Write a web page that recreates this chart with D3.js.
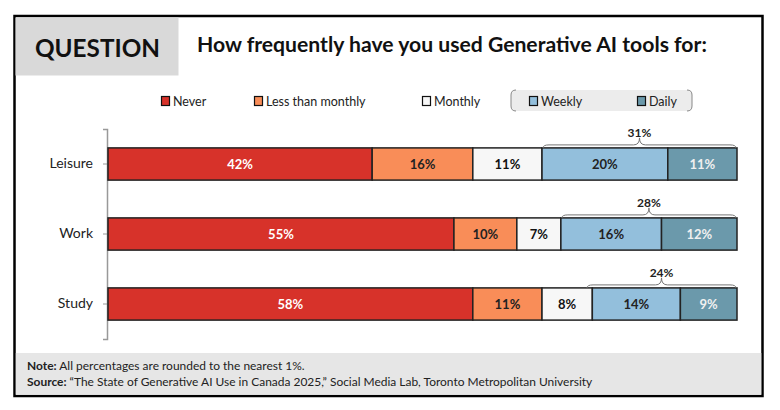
<!DOCTYPE html>
<html>
<head>
<meta charset="utf-8">
<script src="https://cdn.jsdelivr.net/npm/d3@7"></script>
<style>
  body { margin: 0; background: #fff; }
  svg { display: block; font-family: Lato, "Open Sans", sans-serif; }
</style>
</head>
<body>
<svg id="chart" width="780" height="410"></svg>
<script>
const categories = ['Leisure', 'Work', 'Study'];
const series = ['Never', 'Less than monthly', 'Monthly', 'Weekly', 'Daily'];
const never = [42, 55, 58];
const lessThanMonthly = [16, 10, 11];
const monthly = [11, 7, 8];
const weekly = [20, 16, 14];
const daily = [11, 12, 9];
const weeklyOrDaily = [31, 28, 24];

const colors = ['#d7322a', '#f98d58', '#f7f7f7', '#93bfdc', '#6b99ab'];
const labelColors = ['#fff', '#222', '#111', '#222', '#f0f0f0'];

const svg = d3.select('#chart');

// fit a text element to a target width by scaling its font size
function fit(sel, w) {
  const len = sel.node().getComputedTextLength();
  const fs = parseFloat(sel.attr('font-size'));
  sel.attr('font-size', fs * w / len);
  return sel;
}

// frame
svg.append('rect')
  .attr('x', 14.5).attr('y', 16)
  .attr('width', 748).attr('height', 380)
  .attr('fill', '#fff')
  .attr('stroke', '#000').attr('stroke-width', 2.5);

svg.append('rect')
  .attr('x', 15.5).attr('y', 17.5)
  .attr('width', 163).attr('height', 58)
  .attr('fill', '#d9d9d9');

fit(svg.append('text')
  .attr('x', 35).attr('y', 57)
  .attr('font-size', 24).attr('font-weight', 700)
  .attr('fill', '#111')
  .text('QUESTION'), 125);

fit(svg.append('text')
  .attr('x', 197).attr('y', 52)
  .attr('font-size', 20).attr('font-weight', 700)
  .attr('fill', '#111')
  .text('How frequently have you used Generative AI tools for:'), 510);

// legend
const legendX = [161, 254, 422, 529, 637];
svg.append('path')
  .attr('d', 'M516,90 Q511,90 511,95 L511,106 Q511,111 516,111 L687,111 Q692,111 692,106 L692,95 Q692,90 687,90 Z')
  .attr('fill', '#ececec');
svg.append('path')
  .attr('d', 'M516,90 Q511,90 511,95 L511,106 Q511,111 516,111 M687,90 Q692,90 692,95 L692,106 Q692,111 687,111')
  .attr('fill', 'none').attr('stroke', '#888').attr('stroke-width', 1);

const legend = svg.append('g').selectAll('g')
  .data(series)
  .join('g')
  .attr('transform', (d, i) => `translate(${legendX[i]},101)`);
legend.append('rect')
  .attr('x', 0.5).attr('y', -4.5)
  .attr('width', 8).attr('height', 9)
  .attr('fill', (d, i) => colors[i])
  .attr('stroke', '#111').attr('stroke-width', 1.2);
legend.append('text')
  .attr('x', 12).attr('y', 5)
  .attr('font-size', 12.5).attr('fill', '#222')
  .text(d => d);

// scales
const x = d3.scaleLinear().domain([0, 100]).range([108, 737]);
const y = d3.scaleBand().domain(categories).range([129, 339]).paddingInner(0.54).paddingOuter(0.27);

const yAxis = svg.append('g')
  .attr('transform', 'translate(107,0)')
  .call(d3.axisLeft(y).tickSize(4).tickSizeOuter(4).tickPadding(10));
yAxis.select('.domain').attr('stroke', '#999').attr('stroke-width', 1.5);
yAxis.selectAll('.tick line').attr('stroke', '#999').attr('x2', 4).attr('x1', -4);
yAxis.selectAll('.tick text')
  .attr('font-family', 'Lato, sans-serif')
  .attr('font-size', 14).attr('fill', '#222');

// stacked bars
const rows = categories.map((c, i) => ({
  cat: c, Never: never[i], 'Less than monthly': lessThanMonthly[i],
  Monthly: monthly[i], Weekly: weekly[i], Daily: daily[i]
}));
const stacked = d3.stack().keys(series)(rows);

const layers = svg.append('g').selectAll('g')
  .data(stacked)
  .join('g');
layers.selectAll('rect')
  .data(d => d)
  .join('rect')
  .attr('x', d => x(d[0]))
  .attr('y', d => y(d.data.cat))
  .attr('width', d => x(d[1]) - x(d[0]))
  .attr('height', y.bandwidth())
  .attr('fill', function() { return colors[series.indexOf(d3.select(this.parentNode).datum().key)]; })
  .attr('stroke', '#222').attr('stroke-width', 1.5);
layers.each(function(layer, li) {
  d3.select(this).selectAll('text')
    .data(layer)
    .join('text')
    .attr('x', d => (x(d[0]) + x(d[1])) / 2)
    .attr('y', d => y(d.data.cat) + y.bandwidth() / 2 + 5)
    .attr('text-anchor', 'middle')
    .attr('font-size', 13).attr('font-weight', 700)
    .attr('fill', labelColors[li])
    .text(d => (d[1] - d[0]) + '%');
});

// braces over weekly + daily
const braces = svg.append('g').selectAll('g')
  .data(categories)
  .join('g');
braces.append('path')
  .attr('d', (c, i) => {
    const x0 = x(100 - weeklyOrDaily[i]) + 1, x1 = x(100) - 1;
    const m = (x0 + x1) / 2, top = y(c);
    const h = top - 3;
    return `M${x0},${top} Q${x0},${h} ${x0 + 6},${h} L${m - 6},${h} Q${m},${h} ${m},${top - 10}` +
      ` Q${m},${h} ${m + 6},${h} L${x1 - 6},${h} Q${x1},${h} ${x1},${top}`;
  })
  .attr('fill', 'none').attr('stroke', '#777').attr('stroke-width', 1);
braces.append('text')
  .attr('x', (c, i) => (x(100 - weeklyOrDaily[i]) + x(100)) / 2)
  .attr('y', c => y(c) - 11)
  .attr('text-anchor', 'middle')
  .attr('font-size', 12).attr('font-weight', 700).attr('fill', '#222')
  .text((c, i) => weeklyOrDaily[i] + '%');

// footnote band
svg.append('rect')
  .attr('x', 15.8).attr('y', 353)
  .attr('width', 745.5).attr('height', 41.8)
  .attr('fill', '#e6e6e6');

const note = svg.append('text')
  .attr('x', 27).attr('y', 370)
  .attr('font-size', 13).attr('fill', '#222');
note.append('tspan').attr('font-weight', 700).text('Note:');
note.append('tspan').text(' All percentages are rounded to the nearest 1%.');

const source = svg.append('text')
  .attr('x', 27).attr('y', 386)
  .attr('font-size', 13).attr('fill', '#222');
source.append('tspan').attr('font-weight', 700).text('Source:');
source.append('tspan').text(' \u201cThe State of Generative AI Use in Canada 2025,\u201d Social Media Lab, Toronto Metropolitan University');
fit(source, 566);
note.attr('font-size', source.attr('font-size'));
</script>
</body>
</html>
